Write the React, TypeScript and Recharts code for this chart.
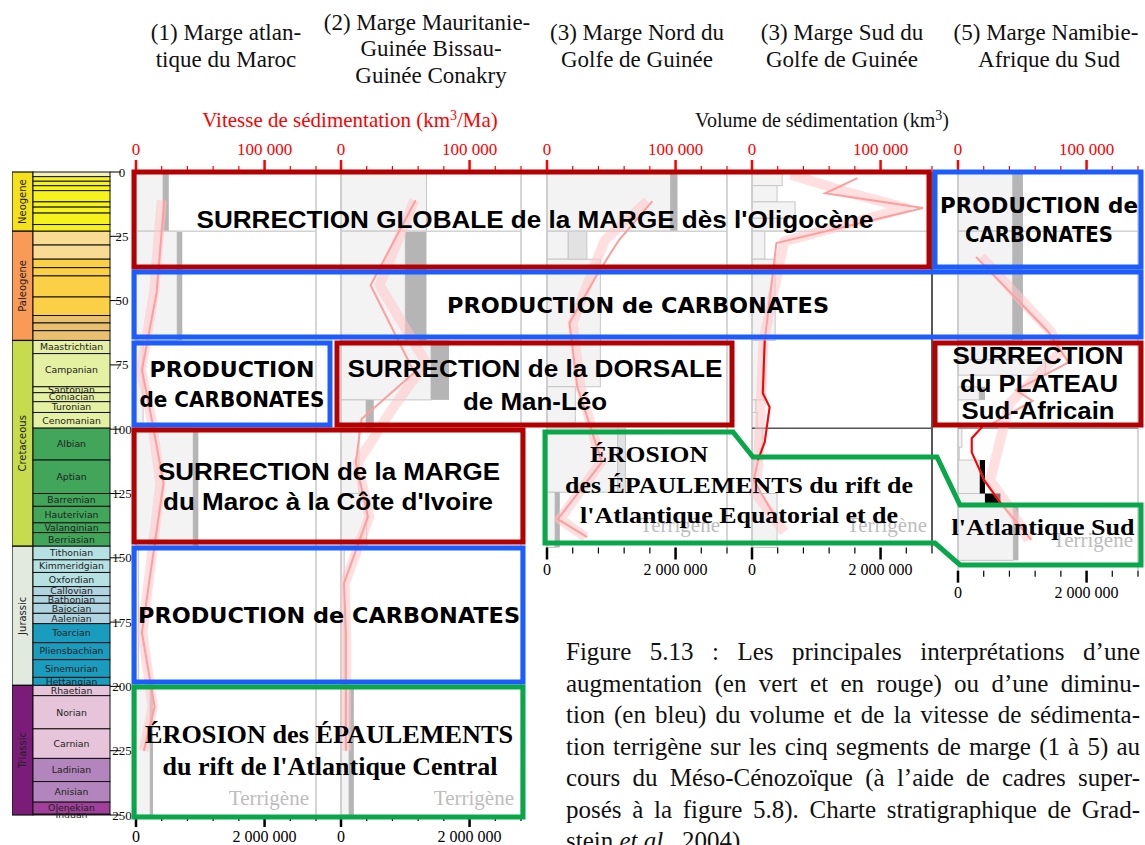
import React from 'react';
import { ComposedChart, Line, XAxis, YAxis, ReferenceArea, ReferenceLine } from 'recharts';

// ---- stratigraphic chart (Gradstein et al., 2004), ages in Ma ----
const periods = [
  { name: 'Neogene', top: 0, base: 23.03, color: '#f5e11b' },
  { name: 'Paleogene', top: 23.03, base: 65.5, color: '#f99b56' },
  { name: 'Cretaceous', top: 65.5, base: 145.5, color: '#c6dc4d' },
  { name: 'Jurassic', top: 145.5, base: 199.6, color: '#e2eae0' },
  { name: 'Triassic', top: 199.6, base: 250, color: '#7a1c78' },
];

const stages = [
  { name: '', top: 0, base: 1.806, color: '#f3efbd' },
  { name: '', top: 1.806, base: 3.6, color: '#f6f21c' },
  { name: '', top: 3.6, base: 5.332, color: '#f6f21c' },
  { name: '', top: 5.332, base: 7.246, color: '#f6f21c' },
  { name: '', top: 7.246, base: 11.608, color: '#f6f21c' },
  { name: '', top: 11.608, base: 13.65, color: '#f6f21c' },
  { name: '', top: 13.65, base: 15.97, color: '#f6f21c' },
  { name: '', top: 15.97, base: 20.43, color: '#f6f21c' },
  { name: '', top: 20.43, base: 23.03, color: '#f6f21c' },
  { name: '', top: 23.03, base: 28.4, color: '#f8dc93' },
  { name: '', top: 28.4, base: 33.9, color: '#f8dc93' },
  { name: '', top: 33.9, base: 37.2, color: '#fcd046' },
  { name: '', top: 37.2, base: 40.4, color: '#fcd046' },
  { name: '', top: 40.4, base: 48.6, color: '#fcd046' },
  { name: '', top: 48.6, base: 55.8, color: '#fcd046' },
  { name: '', top: 55.8, base: 58.7, color: '#e8c06f' },
  { name: '', top: 58.7, base: 61.7, color: '#e8c06f' },
  { name: '', top: 61.7, base: 65.5, color: '#e8c06f' },
  { name: 'Maastrichtian', top: 65.5, base: 70.6, color: '#e4f0a2' },
  { name: 'Campanian', top: 70.6, base: 83.5, color: '#e4f0a2' },
  { name: 'Santonian', top: 83.5, base: 85.8, color: '#e4f0a2' },
  { name: 'Coniacian', top: 85.8, base: 89.3, color: '#e4f0a2' },
  { name: 'Turonian', top: 89.3, base: 93.5, color: '#e4f0a2' },
  { name: 'Cenomanian', top: 93.5, base: 99.6, color: '#e4f0a2' },
  { name: 'Albian', top: 99.6, base: 112, color: '#41a55a' },
  { name: 'Aptian', top: 112, base: 125, color: '#41a55a' },
  { name: 'Barremian', top: 125, base: 130, color: '#41a55a' },
  { name: 'Hauterivian', top: 130, base: 136.4, color: '#41a55a' },
  { name: 'Valanginian', top: 136.4, base: 140.2, color: '#41a55a' },
  { name: 'Berriasian', top: 140.2, base: 145.5, color: '#41a55a' },
  { name: 'Tithonian', top: 145.5, base: 150.8, color: '#b6e1e2' },
  { name: 'Kimmeridgian', top: 150.8, base: 155.7, color: '#b6e1e2' },
  { name: 'Oxfordian', top: 155.7, base: 161.2, color: '#b6e1e2' },
  { name: 'Callovian', top: 161.2, base: 164.7, color: '#afd3df' },
  { name: 'Bathonian', top: 164.7, base: 167.7, color: '#afd3df' },
  { name: 'Bajocian', top: 167.7, base: 171.6, color: '#afd3df' },
  { name: 'Aalenian', top: 171.6, base: 175.6, color: '#afd3df' },
  { name: 'Toarcian', top: 175.6, base: 183, color: '#1a9cbf' },
  { name: 'Pliensbachian', top: 183, base: 189.6, color: '#1a9cbf' },
  { name: 'Sinemurian', top: 189.6, base: 196.5, color: '#1a9cbf' },
  { name: 'Hettangian', top: 196.5, base: 199.6, color: '#1a9cbf' },
  { name: 'Rhaetian', top: 199.6, base: 203.6, color: '#e6c4da' },
  { name: 'Norian', top: 203.6, base: 216.5, color: '#e6c4da' },
  { name: 'Carnian', top: 216.5, base: 228, color: '#e6c4da' },
  { name: 'Ladinian', top: 228, base: 237, color: '#b285bc' },
  { name: 'Anisian', top: 237, base: 245, color: '#b285bc' },
  { name: 'Olenekian', top: 245, base: 249.7, color: '#a0409a' },
  { name: 'Induan', top: 249.7, base: 250, color: '#a0409a' },
];

const ageTicks = [0, 25, 50, 75, 100, 125, 150, 175, 200, 225, 250];
const rateTicks = [0, 20000, 40000, 60000, 80000, 100000, 120000, 140000];
const volTicks = [0, 400000, 800000, 1200000, 1600000, 2000000, 2400000, 2800000];

// ---- volumes per interval (km3): lo = terrigenous, hi = upper estimate ----
const bars1 = [
  { top: 0, base: 23.03, lo: 420000, hi: 510000 },
  { top: 23.03, base: 65.5, lo: 640000, hi: 720000 },
  { top: 65.5, base: 99.6, lo: 110000, hi: 110000 },
  { top: 99.6, base: 145.5, lo: 890000, hi: 970000 },
  { top: 145.5, base: 199.6, lo: 40000, hi: 40000 },
  { top: 199.6, base: 250, lo: 220000, hi: 265000 },
];
const bars2 = [
  { top: 0, base: 23.03, lo: 1330000, hi: 1330000 },
  { top: 23.03, base: 65.5, lo: 1000000, hi: 1330000 },
  { top: 65.5, base: 88.6, lo: 1400000, hi: 1680000 },
  { top: 88.6, base: 99.6, lo: 390000, hi: 510000 },
  { top: 99.6, base: 125, lo: 280000, hi: 280000 },
  { top: 125, base: 145.5, lo: 400000, hi: 400000 },
  { top: 145.5, base: 199.6, lo: 50000, hi: 50000 },
  { top: 199.6, base: 250, lo: 125000, hi: 200000 },
];
const bars3 = [
  { top: 0, base: 23.03, lo: 1920000, hi: 2030000 },
  { top: 23.03, base: 33.9, lo: 330000, hi: 620000, tone: 'mid' },
  { top: 33.9, base: 83.5, lo: 830000, hi: 830000 },
  { top: 83.5, base: 99.6, lo: 440000, hi: 440000 },
  { top: 99.6, base: 124.5, lo: 1100000, hi: 1220000, tone: 'mid' },
  { top: 124.5, base: 146, lo: 125000, hi: 200000 },
];
const bars4 = [
  { top: 0, base: 5.3, lo: 470000, hi: 470000 },
  { top: 5.3, base: 11.6, lo: 390000, hi: 390000 },
  { top: 11.6, base: 18, lo: 670000, hi: 670000 },
  { top: 18, base: 23.03, lo: 550000, hi: 550000 },
  { top: 23.03, base: 33.9, lo: 200000, hi: 200000 },
  { top: 33.9, base: 65.5, lo: 360000, hi: 360000 },
  { top: 65.5, base: 88.6, lo: 200000, hi: 200000 },
  { top: 88.6, base: 93.5, lo: 60000, hi: 60000 },
  { top: 93.5, base: 99.6, lo: 80000, hi: 80000 },
  { top: 99.6, base: 112, lo: 160000, hi: 160000 },
  { top: 112, base: 125, lo: 30000, hi: 30000 },
  { top: 125, base: 146, lo: 390000, hi: 390000 },
];
const bars5 = [
  { top: 0, base: 23.03, lo: 850000, hi: 1010000 },
  { top: 23.03, base: 65.5, lo: 850000, hi: 1010000 },
  { top: 65.5, base: 73, lo: 780000, hi: 780000 },
  { top: 73, base: 79, lo: 1360000, hi: 1360000 },
  { top: 83.5, base: 88.6, lo: 330000, hi: 420000 },
  { top: 99.6, base: 107, lo: 60000, hi: 60000 },
  { top: 107, base: 112, lo: 20000, hi: 20000 },
  { top: 112, base: 125, lo: 340000, hi: 420000, tone: 'black' },
  { top: 125, base: 130, lo: 420000, hi: 660000, tone: 'black' },
  { top: 130, base: 151, lo: 860000, hi: 940000 },
];

// ---- sedimentation rate (km3/Ma): [age, rate] ----
const line1 = [[11, 22000], [47, 16000], [77, 4600], [96, 12200], [121, 21400], [179, 4600], [208, 14500], [225, 6100]];
const band1 = [[11, 20000], [47, 14000], [77, 4000], [96, 12000], [121, 19000], [179, 5000], [208, 13000], [225, 6000]];
const line2 = [[11, 58000], [44, 23000], [78, 57000], [96, 16000], [113, 11500], [134, 21000], [160, 2300], [179, 3800], [225, 3800]];
const band2 = [[11, 57000], [44, 30000], [74, 66000], [92, 40000], [113, 13000], [134, 22000], [160, 3000], [179, 4000], [225, 4000]];
const line3 = [[11.3, 82000], [26.5, 56000], [39, 40000], [58.7, 17500], [83.6, 23600], [112.8, 42700], [135, 8400], [142, 31300]];
const band3 = [[11.3, 78000], [26.5, 45000], [39, 35000], [58.7, 20000], [83.6, 26000], [112.8, 42000], [135, 10000], [142, 30000]];
const line4 = [[2.4, 82000], [8.3, 57000], [14, 133000], [27.6, 19000], [65.5, 9900], [86, 8400], [91.4, 13700], [105, 9900], [112, 4600], [120, 1500], [135, 19000]];
const band4 = [[1, 30000], [8, 75000], [14, 120000], [27, 25000], [65.5, 9000], [112, 5000], [125, 3000], [140, 25000]];
const red4 = [[65.5, 9900], [86, 8400], [91.4, 13700], [105, 9900], [112, 4600]];
const line5 = [[33, 14000], [62, 70000], [74, 86000], [84.8, 45000], [89, 58000], [98, 26000], [99, 19000], [103.5, 10700], [109, 10700], [120, 20600], [129, 33600], [143, 57000]];
const band5 = [[33, 18000], [62, 72000], [70, 80000], [84, 52000], [90, 40000], [120, 25000], [129, 38000], [143, 55000]];
const red5 = [[99, 19000], [103.5, 10700], [109, 10700], [120, 20600], [129, 33600]];

const panelLefts = [136, 341, 547, 752, 958];
const panelAgeMax = [250, 250, 146, 146, 155];

// ---- layout ----
const TOP = 172;
const PX_MA = 643 / 250;
const PANEL_W = 180;
const AX_H = 34;
const PAD = 40;
const SERIF = "'Liberation Serif', 'Times New Roman', serif";
const SANS = "'Liberation Sans', Arial, sans-serif";
const COMIC = "'DejaVu Sans', sans-serif";
const RED = '#b40000';
const BLUE = '#1d5cff';
const GREEN = '#08a84a';
const TONES: Record<string, string> = { dark: '#b5b5b5', mid: '#e2e2e2', black: '#000' };

const pts = (a: number[][]) => a.map(([age, rate]) => ({ age, rate }));
const fmt = (v: number) => String(v).replace(/\B(?=(\d{3})+(?!\d))/g, ' ');

function RateTick(props: any) {
  const { x, y, payload } = props;
  const major = payload.value % 100000 === 0;
  const len = major ? 12 : 6;
  return (
    <g>
      <line x1={x} x2={x} y1={y} y2={y - len} stroke="#ff0000" strokeWidth={major ? 2.5 : 1.2} />
      {major && (
        <text x={x} y={y - 17} textAnchor="middle" fill="#ff0000" fontSize={17} fontFamily={SERIF}>
          {fmt(payload.value)}
        </text>
      )}
    </g>
  );
}

function VolTick(props: any) {
  const { x, y, payload } = props;
  const major = payload.value % 2000000 === 0;
  const len = major ? 12 : 6;
  return (
    <g>
      <line x1={x} x2={x} y1={y} y2={y + len} stroke="#000" strokeWidth={major ? 2.5 : 1.2} />
      {major && (
        <text x={x} y={y + 27} textAnchor="middle" fill="#000" fontSize={16} fontFamily={SERIF}>
          {fmt(payload.value)}
        </text>
      )}
    </g>
  );
}

function AgeTick(props: any) {
  const { x, y, payload } = props;
  return (
    <g>
      <line x1={x} x2={x + 11} y1={y} y2={y} stroke="#000" strokeWidth={1} />
      <text x={x + 12} y={y} dy="0.35em" textAnchor="middle" fontSize={13} fontFamily={SERIF} fill="#111">
        {payload.value}
      </text>
    </g>
  );
}

function Panel({ idx, bars, line, band, red }: any) {
  const left = panelLefts[idx];
  const ageMax = panelAgeMax[idx];
  const plotH = ageMax * PX_MA;
  const barShape = (fill: string, stroke: string) => (s: any) => (
    <rect x={s.x} y={s.y} width={s.width} height={s.height} fill={fill} stroke={stroke} strokeWidth={1} />
  );
  return (
    <div style={{ position: 'absolute', left: left - PAD, top: TOP - AX_H }}>
      <ComposedChart
        layout="vertical"
        width={PANEL_W + 2 * PAD}
        height={plotH + 2 * AX_H}
        margin={{ top: 0, right: PAD, bottom: 0, left: PAD }}
      >
        <XAxis xAxisId="rate" type="number" orientation="top" domain={[0, 140000]} ticks={rateTicks} interval={0}
          height={AX_H} axisLine={false} tickLine={false} tickSize={0} tickMargin={0} tick={(p: any) => <RateTick {...p} />} />
        <XAxis xAxisId="vol" type="number" orientation="bottom" domain={[0, 2800000]} ticks={volTicks} interval={0}
          height={AX_H} axisLine={false} tickLine={false} tickSize={0} tickMargin={0} tick={(p: any) => <VolTick {...p} />} />
        <YAxis yAxisId={0} type="number" dataKey="age" domain={[0, ageMax]} hide allowDataOverflow />
        {bars.map((b: any, i: number) => (
          <ReferenceArea key={'l' + i} xAxisId="vol" yAxisId={0} x1={0} x2={b.lo} y1={b.top} y2={b.base} ifOverflow="visible"
            shape={barShape('#f3f3f3', '#c6c6c6')} />
        ))}
        {bars.filter((b: any) => b.hi > b.lo).map((b: any, i: number) => (
          <ReferenceArea key={'d' + i} xAxisId="vol" yAxisId={0} x1={b.lo} x2={b.hi} y1={b.top} y2={b.base} ifOverflow="visible"
            shape={barShape(TONES[b.tone || 'dark'], b.tone === 'mid' ? '#c6c6c6' : 'none')} />
        ))}
        <Line xAxisId="vol" data={bars.map((b: any) => ({ age: b.top, v: b.lo }))} dataKey="v" stroke="none"
          dot={false} isAnimationActive={false} />
        <ReferenceLine xAxisId="rate" y={23.03} stroke="#d2d2d2" strokeWidth={1.5} />
        <ReferenceLine xAxisId="rate" x={0} stroke="#c8c8c8" strokeWidth={1.5} />
        <ReferenceLine xAxisId="rate" x={140000} stroke={idx === 3 ? '#222' : '#c8c8c8'} strokeWidth={1.5} />
        {idx >= 3 && <ReferenceLine xAxisId="rate" y={99.6} stroke={idx === 3 ? '#555' : '#999'} strokeWidth={1.5} />}
        <Line xAxisId="rate" data={pts(band)} dataKey="rate" type="linear" stroke="#ffc4c4" strokeOpacity={0.55}
          strokeWidth={10} strokeLinejoin="round" dot={false} isAnimationActive={false} />
        <Line xAxisId="rate" data={pts(line)} dataKey="rate" type="linear" stroke="#ff9e9e"
          strokeWidth={2} dot={false} isAnimationActive={false} />
        {red && (
          <Line xAxisId="rate" data={pts(red)} dataKey="rate" type="linear" stroke="#ff0000"
            strokeWidth={2} dot={false} isAnimationActive={false} />
        )}
      </ComposedChart>
    </div>
  );
}

function StratColumn() {
  return (
    <div style={{ position: 'absolute', left: 12, top: TOP - 8 }}>
      <ComposedChart layout="vertical" width={128} height={643 + 16} margin={{ top: 8, right: 0, bottom: 8, left: 0 }}>
        <XAxis type="number" dataKey="x" domain={[0, 98]} hide />
        <YAxis yAxisId={0} type="number" dataKey="age" orientation="right" domain={[0, 250]} ticks={ageTicks} interval={0} width={30}
          axisLine={false} tickLine={false} tickSize={0} tickMargin={0} tick={(p: any) => <AgeTick {...p} />} />
        {periods.map((p, i) => (
          <ReferenceArea key={'p' + i} yAxisId={0} x1={0} x2={21} y1={p.top} y2={p.base} ifOverflow="visible"
            shape={(s: any) => (
              <g>
                <rect x={s.x} y={s.y} width={s.width} height={s.height} fill={p.color} stroke="#111" strokeWidth={1.2} />
                <text x={s.x + s.width / 2} y={s.y + s.height / 2} dy="0.35em" textAnchor="middle" fontSize={10}
                  fontFamily={COMIC} fill="#222" transform={`rotate(-90 ${s.x + s.width / 2} ${s.y + s.height / 2})`}>
                  {p.name}
                </text>
              </g>
            )} />
        ))}
        {stages.map((st, i) => (
          <ReferenceArea key={'s' + i} yAxisId={0} x1={21} x2={98} y1={st.top} y2={st.base} ifOverflow="visible"
            shape={(s: any) => (
              <g>
                <rect x={s.x} y={s.y} width={s.width} height={s.height} fill={st.color} stroke="#111" strokeWidth={1} />
                {st.name && (
                  <text x={s.x + s.width / 2} y={s.y + s.height / 2} dy="0.35em" textAnchor="middle" fontSize={9.3}
                    fontFamily={COMIC} fill="#222">
                    {st.name}
                  </text>
                )}
              </g>
            )} />
        ))}
        <Line data={ageTicks.map((a) => ({ age: a, x: 0 }))} dataKey="x" stroke="none" dot={false} isAnimationActive={false} />
      </ComposedChart>
    </div>
  );
}

// ---- annotations and titles ----
const titles = [
  { t: '(1) Marge atlan-', x: 226, y: 40 },
  { t: 'tique du Maroc', x: 226, y: 67 },
  { t: '(2) Marge Mauritanie-', x: 427, y: 30 },
  { t: 'Guinée Bissau-', x: 431, y: 56 },
  { t: 'Guinée Conakry', x: 431, y: 83 },
  { t: '(3) Marge Nord du', x: 637, y: 40 },
  { t: 'Golfe de Guinée', x: 637, y: 67 },
  { t: '(3) Marge Sud du', x: 842, y: 40 },
  { t: 'Golfe de Guinée', x: 842, y: 67 },
  { t: '(5) Marge Namibie-', x: 1046, y: 40 },
  { t: 'Afrique du Sud', x: 1049, y: 67 },
];

const terrigene = [
  { x: 309, y: 805 }, { x: 514, y: 805 }, { x: 720, y: 532 }, { x: 927, y: 532 }, { x: 1133, y: 547 },
];

const frameRects = [
  { x1: 134, y1: 172, x2: 929, y2: 267, c: RED },
  { x1: 935, y1: 172, x2: 1141, y2: 267, c: BLUE },
  { x1: 134, y1: 272, x2: 1141, y2: 337, c: BLUE },
  { x1: 134, y1: 343, x2: 330, y2: 425, c: BLUE },
  { x1: 337, y1: 343, x2: 732, y2: 425, c: RED },
  { x1: 935, y1: 343, x2: 1141, y2: 425, c: RED },
  { x1: 134, y1: 430, x2: 523, y2: 542, c: RED },
  { x1: 134, y1: 548, x2: 523, y2: 682, c: BLUE },
  { x1: 134, y1: 687, x2: 523, y2: 817, c: GREEN },
];
const greenFrame = '545,432 733,432 753,457 937,457 960,505 1141,505 1141,565 960,565 935,543 545,543';

const frameTexts = [
  { t: "SURRECTION GLOBALE de la MARGE dès l'Oligocène", x: 535, y: 228, w: 677, f: SANS, s: 24 },
  { t: 'PRODUCTION de', x: 1039, y: 213, w: 198, f: COMIC, s: 21 },
  { t: 'CARBONATES', x: 1039, y: 242, w: 148, f: COMIC, s: 21 },
  { t: 'PRODUCTION de CARBONATES', x: 638, y: 313, w: 382, f: COMIC, s: 22 },
  { t: 'PRODUCTION', x: 232, y: 377, w: 165, f: COMIC, s: 21 },
  { t: 'de CARBONATES', x: 232, y: 407, w: 185, f: COMIC, s: 21 },
  { t: 'SURRECTION de la DORSALE', x: 535, y: 377, w: 375, f: SANS, s: 24 },
  { t: 'de Man-Léo', x: 535, y: 410, w: 144, f: SANS, s: 24 },
  { t: 'SURRECTION', x: 1038, y: 364, w: 171, f: SANS, s: 23 },
  { t: 'du PLATEAU', x: 1039, y: 392, w: 158, f: SANS, s: 23 },
  { t: 'Sud-Africain', x: 1038, y: 419, w: 153, f: SANS, s: 23 },
  { t: 'SURRECTION de la MARGE', x: 329, y: 480, w: 342, f: SANS, s: 24 },
  { t: "du Maroc à la Côte d'Ivoire", x: 328, y: 510, w: 330, f: SANS, s: 24 },
  { t: 'ÉROSION', x: 649, y: 462, w: 118, f: SERIF, s: 23 },
  { t: 'des ÉPAULEMENTS du rift de', x: 739, y: 493, w: 348, f: SERIF, s: 23 },
  { t: "l'Atlantique Equatorial et de", x: 739, y: 523, w: 318, f: SERIF, s: 23 },
  { t: "l'Atlantique Sud", x: 1043, y: 535, w: 183, f: SERIF, s: 23 },
  { t: 'PRODUCTION de CARBONATES', x: 329, y: 623, w: 382, f: COMIC, s: 22 },
  { t: 'ÉROSION des ÉPAULEMENTS', x: 329, y: 743, w: 368, f: SERIF, s: 25 },
  { t: "du rift de l'Atlantique Central", x: 330, y: 775, w: 335, f: SERIF, s: 25 },
];

const captionLines = [
  'Figure 5.13 : Les principales interprétations d’une',
  'augmentation (en vert et en rouge) ou d’une diminu-',
  'tion (en bleu) du volume et de la vitesse de sédimenta-',
  'tion terrigène sur les cinq segments de marge (1 à 5) au',
  'cours du Méso-Cénozoïque (à l’aide de cadres super-',
  'posés à la figure 5.8). Charte stratigraphique de Grad-',
];

export default function App() {
  return (
    <div style={{ position: 'absolute', left: 0, top: 0, width: 1145, height: 845, overflow: 'hidden', background: '#fff' }}>
      <svg width={1145} height={845} style={{ position: 'absolute', left: 0, top: 0 }}>
        {titles.map((t, i) => (
          <text key={i} x={t.x} y={t.y} textAnchor="middle" fontSize={23} fontFamily={SERIF} fill="#111">{t.t}</text>
        ))}
        <text x={350} y={127} textAnchor="middle" fontSize={21} fontFamily={SERIF} fill="#ff0000">
          Vitesse de sédimentation (km<tspan fontSize={14} dy={-7}>3</tspan><tspan dy={7}>/Ma)</tspan>
        </text>
        <text x={822} y={127} textAnchor="middle" fontSize={20} fontFamily={SERIF} fill="#111">
          Volume de sédimentation (km<tspan fontSize={14} dy={-7}>3</tspan><tspan dy={7}>)</tspan>
        </text>
      </svg>
      <StratColumn />
      <Panel idx={0} bars={bars1} line={line1} band={band1} />
      <Panel idx={1} bars={bars2} line={line2} band={band2} />
      <Panel idx={2} bars={bars3} line={line3} band={band3} />
      <Panel idx={3} bars={bars4} line={line4} band={band4} red={red4} />
      <Panel idx={4} bars={bars5} line={line5} band={band5} red={red5} />
      <svg width={1145} height={845} style={{ position: 'absolute', left: 0, top: 0, pointerEvents: 'none' }}>
        {terrigene.map((t, i) => (
          <text key={i} x={t.x} y={t.y} textAnchor="end" fontSize={21} fontFamily={SERIF} fill="#bdbdbd">Terrigène</text>
        ))}
        {frameRects.map((r, i) => (
          <rect key={i} x={r.x1} y={r.y1} width={r.x2 - r.x1} height={r.y2 - r.y1} fill="none" stroke={r.c} strokeWidth={5} />
        ))}
        <polygon points={greenFrame} fill="none" stroke={GREEN} strokeWidth={5} strokeLinejoin="miter" />
        {frameTexts.map((t, i) => (
          <text key={i} x={t.x} y={t.y} textAnchor="middle" fontSize={t.s} fontFamily={t.f} fontWeight="bold"
            fill="#000" textLength={t.w} lengthAdjust="spacingAndGlyphs">{t.t}</text>
        ))}
      </svg>
      <div style={{ position: 'absolute', left: 566, top: 636, width: 574, fontFamily: SERIF, fontSize: 25, lineHeight: '31.5px', color: '#111' }}>
        {captionLines.map((l, i) => (
          <div key={i} style={{ textAlign: 'justify', textAlignLast: 'justify', whiteSpace: 'nowrap' as any }}>{l}</div>
        ))}
        <div>stein <i>et al.</i>, 2004).</div>
      </div>
    </div>
  );
}
